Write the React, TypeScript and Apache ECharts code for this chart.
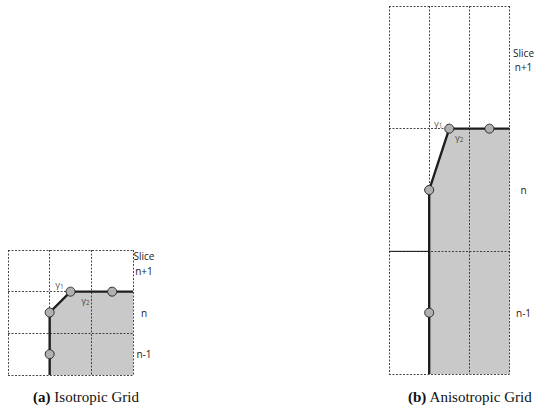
import React, { useEffect, useRef } from "react";
import * as echarts from "echarts";

// Diagram data in cell units (3 columns x 3 slices; rows: n-1 = 0..1, n = 1..2, n+1 = 2..3)
const boundaryPath: number[][] = [[1, 0], [1, 1.5], [1.5, 2], [3, 2]];
const circlePoints: number[][] = [[1, 0.5], [1, 1.5], [1.5, 2], [2.5, 2]];
const gammaAnchor: number[][] = [[1.5, 2]];
const solidSegmentB: number[][] = [[0, 1], [1, 1]];
const sliceTicks: number[] = [0.5, 1.5, 2.5];
const sliceLabels: string[] = ["n-1", "n", "{s|Slice}\n{n|n+1}\n{n| }"];
const captions: string[] = ["{b|(a)}{r| Isotropic Grid}", "{b|(b)}{r| Anisotropic Grid}"];

const SANS = "'Open Sans', 'DejaVu Sans', sans-serif";
const SERIF = "'Liberation Serif', 'DejaVu Serif', serif";

export default function App() {
  const ref = useRef<HTMLDivElement>(null);
  useEffect(() => {
    if (!ref.current) return;
    const chart = echarts.init(ref.current, null, { renderer: "svg" });

    const dash = { type: [2, 1.5] as any, color: "#333333", width: 0.9 };
    const mkX = (gi: number) => ({
      type: "value", gridIndex: gi, min: 0, max: 3, interval: 1, z: 3,
      axisLine: { show: false }, axisTick: { show: false }, axisLabel: { show: false },
      splitLine: { show: true, lineStyle: dash },
    });
    const mkY = (gi: number) => ({
      type: "value", gridIndex: gi, min: 0, max: 3, interval: 1, z: 3,
      axisLine: { show: false }, axisTick: { show: false }, axisLabel: { show: false },
      splitLine: { show: true, lineStyle: dash },
    });
    const mkLabelY = (gi: number, margin: number) => ({
      type: "value", gridIndex: gi, min: 0, max: 3, interval: 0.5, position: "right", z: 3,
      axisLine: { show: false }, axisTick: { show: false }, splitLine: { show: false },
      axisLabel: {
        show: true, margin, align: "center", color: "#222", fontFamily: SANS, fontSize: 10,
        formatter: (v: number) => {
          const i = sliceTicks.findIndex((t) => Math.abs(t - v) < 1e-6);
          return i >= 0 ? sliceLabels[i] : "";
        },
        rich: {
          s: { fontFamily: SANS, fontSize: 10, lineHeight: 14.5, color: "#222" },
          n: { fontFamily: SANS, fontSize: 10, lineHeight: 14.5, color: "#222" },
        },
      },
    });

    const gammaRich = {
      g: { fontFamily: SANS, fontSize: 9.5, color: "#222" },
      s: { fontFamily: SANS, fontSize: 6.5, color: "#222", padding: [3, 0, 0, 0] },
    };

    const panelSeries = (gi: number, g1: number[], g2: number[]) => {
      const xi = gi, yi = gi * 2;
      const list: any[] = [
        {
          type: "line", xAxisIndex: xi, yAxisIndex: yi, data: boundaryPath, symbol: "none", z: 1,
          lineStyle: { width: 0, opacity: 0 }, areaStyle: { color: "#c9c9c9", opacity: 1 }, silent: true,
        },
        {
          type: "line", xAxisIndex: xi, yAxisIndex: yi, data: boundaryPath, symbol: "none", z: 4,
          lineStyle: { width: 2.4, color: "#1e1e1e" },
        },
        {
          type: "scatter", xAxisIndex: xi, yAxisIndex: yi, data: circlePoints, symbolSize: 9, z: 5,
          itemStyle: { color: "#b0b0b0", borderColor: "#2a2a2a", borderWidth: 1, opacity: 1 },
        },
        {
          type: "scatter", xAxisIndex: xi, yAxisIndex: yi, data: gammaAnchor, symbolSize: 0, z: 6,
          label: { show: true, position: "inside", offset: g1, formatter: "{g|γ}{s|1}", rich: gammaRich },
        },
        {
          type: "scatter", xAxisIndex: xi, yAxisIndex: yi, data: gammaAnchor, symbolSize: 0, z: 6,
          label: { show: true, position: "inside", offset: g2, formatter: "{g|γ}{s|2}", rich: gammaRich },
        },
      ];
      return list;
    };

    const series: any[] = [
      ...panelSeries(0, [-11, -7], [15, 9]),
      ...panelSeries(1, [-11, -5], [10, 9]),
      {
        type: "line", xAxisIndex: 1, yAxisIndex: 2, data: solidSegmentB, symbol: "none", z: 4,
        lineStyle: { width: 1, color: "#111" },
      },
    ];

    const captionRich = {
      b: { fontFamily: SERIF, fontSize: 15, fontWeight: "bold", color: "#111" },
      r: { fontFamily: SERIF, fontSize: 15, fontWeight: "normal", color: "#111" },
    };

    chart.setOption({
      animation: false,
      backgroundColor: "#ffffff",
      title: [
        { text: captions[0], left: 81, top: 384, textAlign: "center",
          textStyle: { fontFamily: SERIF, fontSize: 15, fontWeight: "normal", color: "#111", rich: captionRich } },
        { text: captions[1], left: 465, top: 384, textAlign: "center",
          textStyle: { fontFamily: SERIF, fontSize: 15, fontWeight: "normal", color: "#111", rich: captionRich } },
      ],
      grid: [
        { left: 8, top: 250, width: 125, height: 125 },
        { left: 389, top: 6, width: 122, height: 368 },
      ],
      xAxis: [mkX(0), mkX(1)],
      yAxis: [mkY(0), mkLabelY(0, 11), mkY(1), mkLabelY(1, 14)],
      series,
    });
    return () => chart.dispose();
  }, []);
  return (
    <div
      ref={ref}
      style={{ position: "fixed", left: 0, top: 0, width: 537, height: 406 }}
    />
  );
}
